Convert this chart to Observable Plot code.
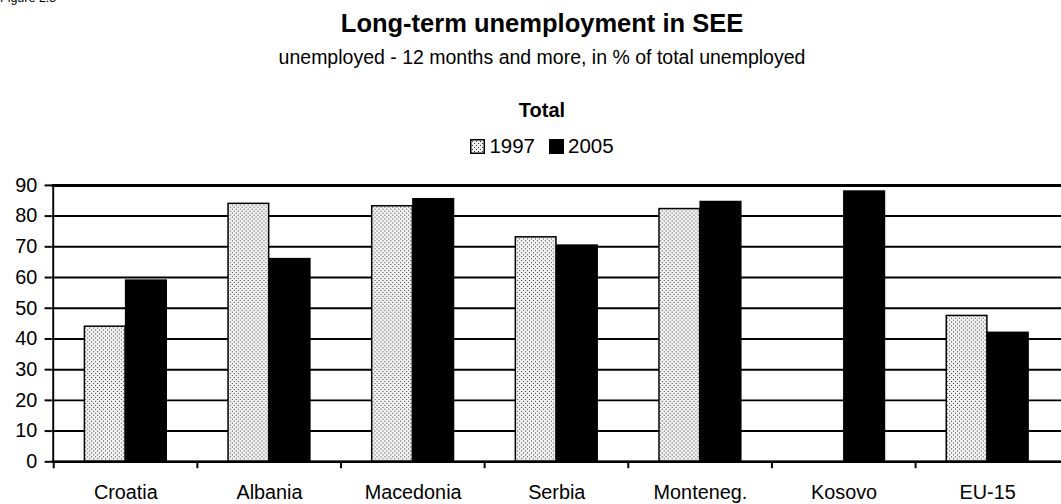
<!DOCTYPE html>
<html><head><meta charset="utf-8">
<script src="https://cdn.jsdelivr.net/npm/d3@7"></script>
<script src="https://cdn.jsdelivr.net/npm/@observablehq/plot@0.6"></script>
<style>
body{margin:0;background:#fff;}
#wrap{position:relative;width:1061px;height:504px;overflow:hidden;font-family:Arial,"Liberation Sans",sans-serif;color:#000;background:#fff;}
.t{position:absolute;left:0;width:1084px;text-align:center;line-height:1;white-space:nowrap;}
#fig{position:absolute;left:0;top:-8px;font-size:12.5px;line-height:1;}
#title{top:11px;font-size:25.5px;font-weight:bold;}
#sub{top:48px;font-size:19.5px;}
#total{top:100px;font-size:20px;font-weight:bold;}
#legend{top:136px;font-size:20.5px;display:flex;justify-content:center;align-items:center;gap:0;}
#legend .sw{width:15px;height:15px;margin-right:4px;}
#legend .it{display:flex;align-items:center;margin:0 7px;}
#chart{position:absolute;left:0;top:175px;}
</style></head><body>
<svg width="0" height="0" style="position:absolute">
  <defs>
    <pattern id="dots" patternUnits="userSpaceOnUse" width="4" height="4">
      <rect width="4" height="4" fill="#f2f2f2"/>
      <rect x="0" y="0" width="1" height="1" fill="#3a3a3a"/>
      <rect x="2" y="2" width="1" height="1" fill="#3a3a3a"/>
    </pattern>
  </defs>
</svg>
<div id="wrap">
  <div id="fig">Figure 2.5</div>
  <div class="t" id="title">Long-term unemployment in SEE</div>
  <div class="t" id="sub">unemployed - 12 months and more, in % of total unemployed</div>
  <div class="t" id="total">Total</div>
  <div class="t" id="legend"></div>
  <div id="chart"></div>
</div>
<script>
const countries = ["Croatia","Albania","Macedonia","Serbia","Monteneg.","Kosovo","EU-15"];
const years = ["1997","2005"];
const v1997 = [44, 84, 83.2, 73.1, 82.3, null, 47.5];
const v2005 = [59, 66, 85.5, 70.4, 84.6, 88, 42];
const yTicks = [0,10,20,30,40,50,60,70,80,90];
const fills = {"1997":"url(#dots)","2005":"#000"};

const d1997 = countries.map((c,i)=>({country:c, year:"1997", value:v1997[i]})).filter(d=>d.value!=null);
const d2005 = countries.map((c,i)=>({country:c, year:"2005", value:v2005[i]})).filter(d=>d.value!=null);

// legend
const leg = document.getElementById("legend");
years.forEach(y=>{
  const it = document.createElement("div"); it.className="it";
  it.innerHTML = `<svg class="sw" width="15" height="15"><rect x="0.75" y="0.75" width="13.5" height="13.5" fill="${fills[y]}" stroke="#000" stroke-width="1.5"/></svg><span>${y}</span>`;
  leg.appendChild(it);
});

const W = 1071, ml = 52, mr = 0, mt = 10, mb = 40, H = 329;
const step = (W - ml - mr) / countries.length;
const bw = step / 3.5;
const font = "Arial, 'Liberation Sans', sans-serif";

const chart = Plot.plot({
  width: W, height: H,
  marginLeft: ml, marginRight: mr, marginTop: mt, marginBottom: mb,
  style: {fontFamily: font, fontSize: "20px", color: "#000", background: "transparent", overflow: "visible"},
  x: {type: "band", domain: countries, padding: 0, axis: null, label: null},
  y: {domain: [0, 90], axis: null, label: null},
  marks: [
    Plot.gridY(yTicks, {stroke: "#000", strokeOpacity: 1, strokeWidth: 2}),
    Plot.barY(d1997, {x: "country", y: "value", fill: fills["1997"], stroke: "#000", strokeWidth: 1.5,
      insetLeft: 0.75 * bw, insetRight: step - 1.75 * bw}),
    Plot.barY(d2005, {x: "country", y: "value", fill: fills["2005"], stroke: "#000", strokeWidth: 1.5,
      insetLeft: 1.75 * bw, insetRight: 0.75 * bw}),
    Plot.ruleY([0], {stroke: "#000", strokeWidth: 2.5}),
    Plot.ruleY([90], {stroke: "#000", strokeWidth: 3}),
    Plot.barY([countries[0]], {x: d => d, y1: 0, y2: 90, fill: "#000", insetRight: step - 2.5, dx: -1.25}),
    Plot.axisY(yTicks, {tickSize: 7, tickPadding: 8, tickFormat: d => d, stroke: "#000", strokeWidth: 2, fontSize: 20, label: null}),
    Plot.axisX({tickSize: 7, tickFormat: () => "", dx: -step / 2, stroke: "#000", strokeWidth: 2, label: null}),
    Plot.axisX({tickSize: 0, tickPadding: 23, fontSize: 20, label: null})
  ]
});
document.getElementById("chart").appendChild(chart);
</script>
</body></html>
